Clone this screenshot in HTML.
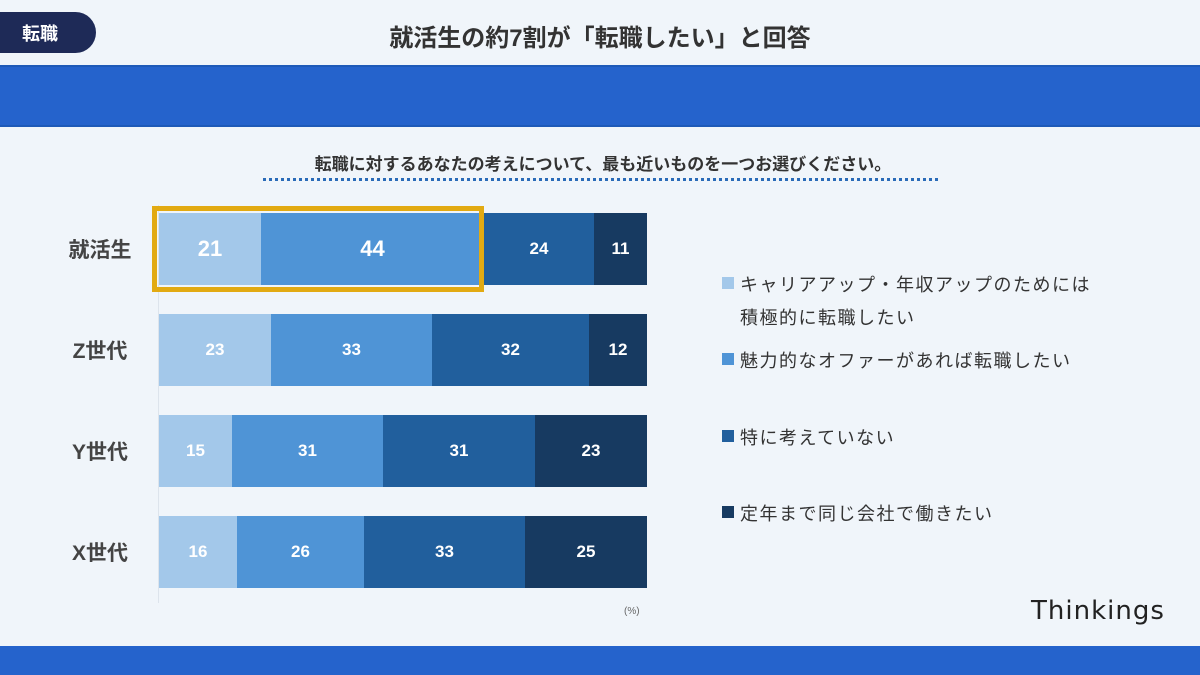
<!DOCTYPE html>
<html><head><meta charset="utf-8"><style>
*{margin:0;padding:0;box-sizing:border-box}
body{width:1200px;height:675px;background:#f0f5fa;position:relative;overflow:hidden;font-family:"Liberation Sans","Noto Sans CJK JP",sans-serif;color:#333}
.a{position:absolute}
.seg{position:absolute;height:72px;color:#fff;font-weight:bold;font-size:17px;display:flex;align-items:center;justify-content:center}
.c1{background:#a3c8ea}.c2{background:#4f94d6}.c3{background:#215f9d}.c4{background:#173a61}
.lab{position:absolute;left:60px;width:80px;text-align:center;font-size:21px;font-weight:bold;color:#444}
.lg{position:absolute;left:740px;font-size:18px;letter-spacing:1.5px;color:#333;white-space:nowrap}
.sq{position:absolute;left:722px;width:12px;height:12px}
</style></head><body>
<div class="a" style="left:-20px;top:12px;width:116px;height:41px;background:#1e2a57;border-radius:21px"></div>
<div class="a" style="left:22px;top:20px;color:#fff;font-size:18px;font-weight:bold">転職</div>
<div class="a" style="left:0;top:18px;width:1200px;text-align:center;font-size:24px;font-weight:bold;color:#333">就活生の約7割が「転職したい」と回答</div>
<div class="a" style="left:0;top:65px;width:1200px;height:62px;background:#2563cc;border-top:2px solid #1e5ab8;border-bottom:2px solid #1e5ab8"></div>
<div class="a" style="left:0;top:150px;width:1200px;text-align:center;font-size:17px;font-weight:bold;color:#333;padding-left:6px">転職に対するあなたの考えについて、最も近いものを一つお選びください。</div>
<div class="a" style="left:263px;top:178px;width:675px;border-top:3px dotted #2a6bb8"></div>
<div class="a" style="left:158px;top:205px;width:1px;height:398px;background:#dde4ec"></div>

<div class="lab" style="top:234px">就活生</div>
<div class="seg c1" style="left:159px;top:213px;width:102px;font-size:22px">21</div>
<div class="seg c2" style="left:261px;top:213px;width:223px;font-size:22px">44</div>
<div class="seg c3" style="left:484px;top:213px;width:110px">24</div>
<div class="seg c4" style="left:594px;top:213px;width:53px">11</div>
<div class="a" style="left:152px;top:206px;width:332px;height:86px;border:5px solid #e2aa12"></div>

<div class="lab" style="top:335px">Z世代</div>
<div class="seg c1" style="left:159px;top:314px;width:112px">23</div>
<div class="seg c2" style="left:271px;top:314px;width:161px">33</div>
<div class="seg c3" style="left:432px;top:314px;width:157px">32</div>
<div class="seg c4" style="left:589px;top:314px;width:58px">12</div>

<div class="lab" style="top:436px">Y世代</div>
<div class="seg c1" style="left:159px;top:415px;width:73px">15</div>
<div class="seg c2" style="left:232px;top:415px;width:151px">31</div>
<div class="seg c3" style="left:383px;top:415px;width:152px">31</div>
<div class="seg c4" style="left:535px;top:415px;width:112px">23</div>

<div class="lab" style="top:537px">X世代</div>
<div class="seg c1" style="left:159px;top:516px;width:78px">16</div>
<div class="seg c2" style="left:237px;top:516px;width:127px">26</div>
<div class="seg c3" style="left:364px;top:516px;width:161px">33</div>
<div class="seg c4" style="left:525px;top:516px;width:122px">25</div>

<div class="a" style="left:624px;top:606px;font-size:10px;color:#666">(%)</div>

<div class="sq c1" style="top:277px"></div>
<div class="lg" style="top:271px">キャリアアップ・年収アップのためには</div>
<div class="lg" style="top:304px">積極的に転職したい</div>
<div class="sq c2" style="top:353px"></div>
<div class="lg" style="top:347px">魅力的なオファーがあれば転職したい</div>
<div class="sq c3" style="top:430px"></div>
<div class="lg" style="top:424px">特に考えていない</div>
<div class="sq c4" style="top:506px"></div>
<div class="lg" style="top:500px">定年まで同じ会社で働きたい</div>

<div class="a" style="left:1031px;top:596px;font-family:'DejaVu Sans',sans-serif;font-size:26px;color:#222;letter-spacing:1px">Thinkings</div>
<div class="a" style="left:0;top:646px;width:1200px;height:29px;background:#2563cc"></div>
</body></html>
